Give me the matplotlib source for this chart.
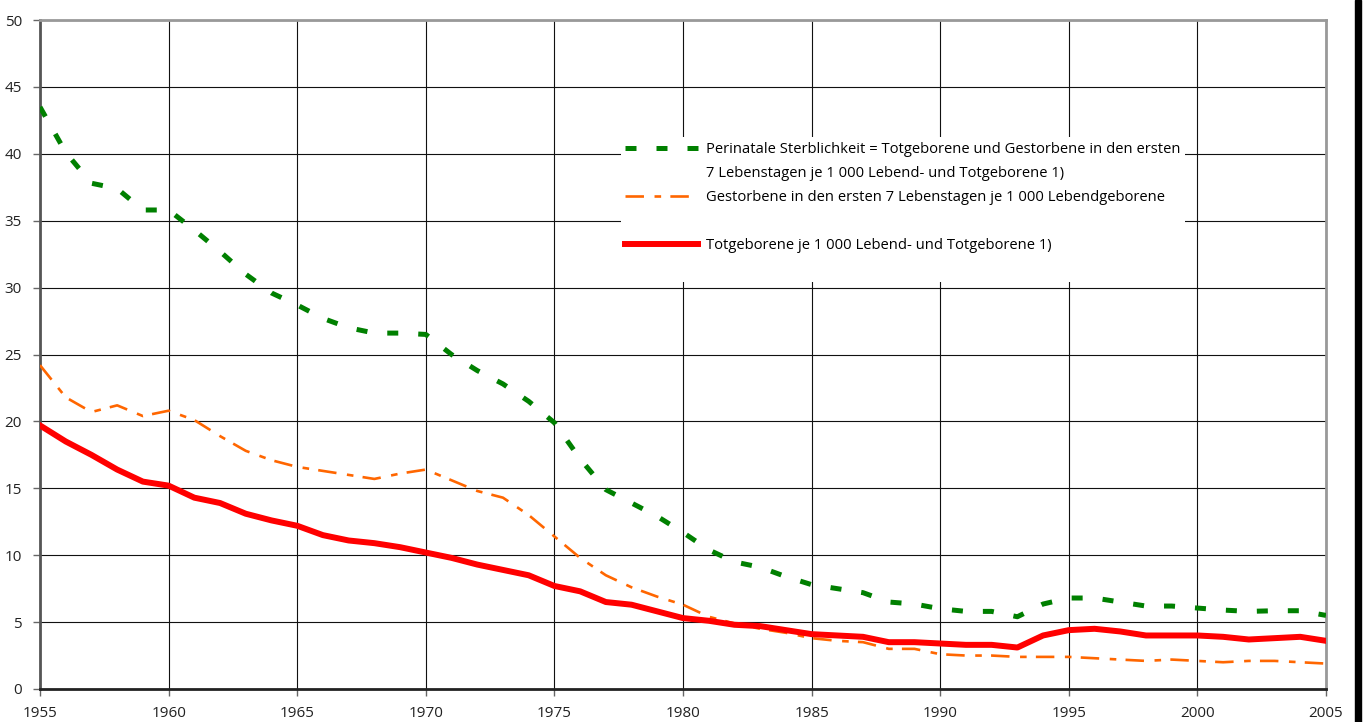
import matplotlib.pyplot as plt
from matplotlib.lines import Line2D
import numpy as np

plt.rcParams['font.family'] = ['Open Sans', 'DejaVu Sans']

jahre = np.arange(1955, 2006)

# Perinatale Sterblichkeit
perinatal = [43.5, 40.1, 37.8, 37.4, 35.8, 35.8, 34.3, 32.7, 31.0, 29.6,
             28.7, 27.7, 27.0, 26.6, 26.6, 26.5, 25.0, 23.8, 22.8, 21.5,
             19.9, 17.2, 14.9, 13.9, 12.9, 11.7, 10.4, 9.5, 9.1, 8.4,
             7.8, 7.5, 7.2, 6.5, 6.35, 6.0, 5.8, 5.8, 5.4, 6.35,
             6.8, 6.8, 6.5, 6.2, 6.2, 6.05, 5.9, 5.8, 5.85, 5.85,
             5.5]

# Gestorbene in den ersten 7 Lebenstagen
gestorbene = [24.2, 21.8, 20.7, 21.2, 20.4, 20.8, 20.1, 18.9, 17.8, 17.1,
              16.6, 16.3, 16.0, 15.7, 16.1, 16.4, 15.6, 14.8, 14.3, 13.0,
              11.4, 9.8, 8.5, 7.6, 6.9, 6.3, 5.4, 4.9, 4.5, 4.2,
              3.8, 3.6, 3.5, 3.0, 3.0, 2.6, 2.5, 2.5, 2.4, 2.4,
              2.4, 2.3, 2.2, 2.1, 2.2, 2.1, 2.0, 2.1, 2.1, 2.0,
              1.9]

# Totgeborene
totgeborene = [19.7, 18.5, 17.5, 16.4, 15.5, 15.2, 14.3, 13.9, 13.1, 12.6,
               12.2, 11.5, 11.1, 10.9, 10.6, 10.2, 9.8, 9.3, 8.9, 8.5,
               7.7, 7.3, 6.5, 6.3, 5.8, 5.3, 5.1, 4.8, 4.7, 4.4,
               4.1, 4.0, 3.9, 3.5, 3.5, 3.4, 3.3, 3.3, 3.1, 4.0,
               4.4, 4.5, 4.3, 4.0, 4.0, 4.0, 3.9, 3.7, 3.8, 3.9,
               3.6]

label_peri = ['Perinatale Sterblichkeit = Totgeborene und Gestorbene in den ersten',
              '7 Lebenstagen je 1 000 Lebend- und Totgeborene 1)']
label_gest = 'Gestorbene in den ersten 7 Lebenstagen je 1 000 Lebendgeborene'
label_tot = 'Totgeborene je 1 000 Lebend- und Totgeborene 1)'

fig = plt.figure(figsize=(13.64, 7.22), dpi=100)
ax = fig.add_axes([40/1364, 1 - 689/722, 1286/1364, 669/722])

l1, = ax.plot(jahre, perinatal, color='#008000', lw=3.6, dashes=(2.2, 4),
              dash_capstyle='butt', zorder=3)
l2, = ax.plot(jahre, gestorbene, color='#ff6600', lw=1.9, dashes=(7, 4, 2.5, 3.5),
              dash_capstyle='butt', zorder=3)
l3, = ax.plot(jahre, totgeborene, color='#ff0000', lw=4.3,
              solid_joinstyle='round', zorder=4)

ax.set_xlim(1955, 2005)
ax.set_ylim(0, 50)
ax.set_xticks(np.arange(1955, 2006, 5))
ax.set_yticks(np.arange(0, 51, 5))
ax.grid(True, color='#111111', lw=0.8)
ax.set_axisbelow(True)
ax.tick_params(length=5, width=1, color='#666666', labelcolor='#222222', labelsize=11)
ax.tick_params(axis='x', pad=7)
ax.tick_params(axis='y', pad=8)

for side, col in [('top', '#999999'), ('right', '#999999'),
                  ('left', '#555555'), ('bottom', '#222222')]:
    ax.spines[side].set_color(col)
    ax.spines[side].set_linewidth(2)

leer = Line2D([], [], color='none')
handles = [l1, leer, l2, leer, l3, leer]
texte = [label_peri[0], label_peri[1], label_gest, ' ', label_tot, ' ']
leg = ax.legend(handles, texte, loc='upper left', bbox_to_anchor=(0.4518, 0.8245),
                borderaxespad=0, frameon=True, fancybox=False, edgecolor='none',
                facecolor='white', framealpha=1, fontsize=10.6,
                handlelength=4.96, handletextpad=0.5, labelspacing=0.62,
                borderpad=0.3)
leg.set_zorder(5)

# schwarzer Rand rechts
fig.patches.append(plt.Rectangle((1355/1364, 0), 6/1364, 1, transform=fig.transFigure,
                                 color='black', zorder=10))

fig.savefig('out.png', dpi=100)
